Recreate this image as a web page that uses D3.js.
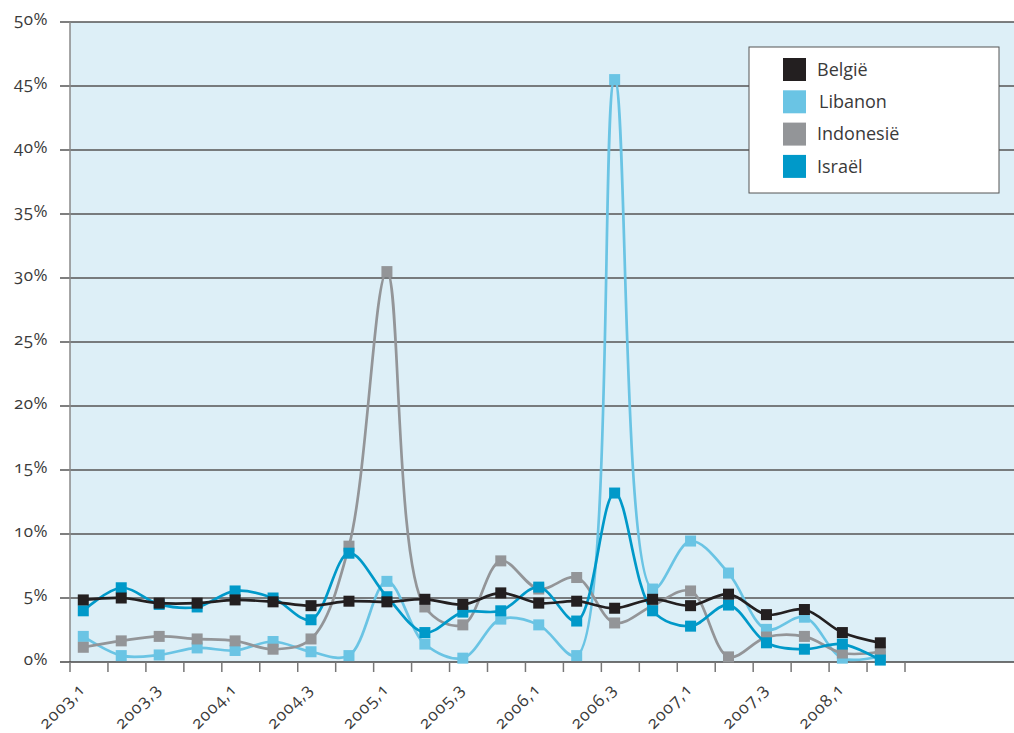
<!DOCTYPE html>
<html>
<head>
<meta charset="utf-8">
<script src="https://cdn.jsdelivr.net/npm/d3@7"></script>
<style>
  body { margin: 0; background: #fff; }
  svg text { font-family: "Open Sans", "Noto Sans", sans-serif; fill: #3a3a3a; font-feature-settings: "onum"; }
</style>
</head>
<body>
<div id="chart"></div>
<script>
const quarters = ["2003,1","2003,2","2003,3","2003,4","2004,1","2004,2","2004,3","2004,4",
	"2005,1","2005,2","2005,3","2005,4","2006,1","2006,2","2006,3","2006,4",
	"2007,1","2007,2","2007,3","2007,4","2008,1","2008,2"];

const belgie    = [4.85, 5.0, 4.6, 4.6, 4.85, 4.7, 4.4, 4.75, 4.7, 4.9, 4.5, 5.4, 4.6, 4.75, 4.2, 4.9, 4.4, 5.3, 3.7, 4.1, 2.3, 1.5];
const libanon   = [2.0, 0.5, 0.55, 1.1, 0.9, 1.6, 0.8, 0.5, 6.3, 1.4, 0.3, 3.35, 2.9, 0.5, 45.5, 5.7, 9.45, 6.95, 2.55, 3.5, 0.3, 0.45];
const indonesie = [1.15, 1.65, 2.0, 1.8, 1.65, 1.0, 1.8, 9.05, 30.5, 4.3, 2.9, 7.9, 5.7, 6.6, 3.05, 4.4, 5.55, 0.4, 1.95, 2.0, 0.7, 0.8];
const israel    = [4.0, 5.8, 4.5, 4.3, 5.55, 5.0, 3.3, 8.5, 5.1, 2.3, 3.9, 4.0, 5.85, 3.2, 13.2, 4.0, 2.8, 4.45, 1.5, 1.0, 1.4, 0.15];

const yTicks = [0, 5, 10, 15, 20, 25, 30, 35, 40, 45, 50];

// legend order; drawing order below puts België on top
const series = [
	{name: "België", values: belgie, color: "#231f20"},
	{name: "Libanon", values: libanon, color: "#6ac4e4"},
	{name: "Indonesië", values: indonesie, color: "#939598"},
	{name: "Israël", values: israel, color: "#0099c9"}
];
const drawOrder = ["Libanon", "Indonesië", "Israël", "België"];

const width = 1014;
const height = 733;
const plot = {left: 70, top: 22, right: 1014, bottom: 662};

const svg = d3.select("#chart")
	.append("svg")
	.attr("width", width)
	.attr("height", height);

const x = d3.scaleBand()
	.domain(quarters)
	.range([plot.left, 905])
	.paddingInner(0)
	.paddingOuter(0);
const px = d => x(d) + x.bandwidth() * 0.35;

const y = d3.scaleLinear()
	.domain([0, 50])
	.range([plot.bottom, plot.top]);

// plot background
svg.append("rect")
	.attr("x", plot.left)
	.attr("y", plot.top)
	.attr("width", plot.right - plot.left)
	.attr("height", plot.bottom - plot.top)
	.attr("fill", "#ddeff7");

// horizontal gridlines + y labels
svg.append("g")
	.selectAll("line")
	.data(yTicks.filter(t => t > 0))
	.enter()
	.append("line")
	.attr("x1", 60)
	.attr("x2", plot.right)
	.attr("y1", d => y(d))
	.attr("y2", d => y(d))
	.attr("stroke", "#555")
	.attr("stroke-width", 1.5);

svg.append("g")
	.selectAll("text")
	.data(yTicks)
	.enter()
	.append("text")
	.attr("x", 48)
	.attr("y", d => y(d) - 2)
	.attr("text-anchor", "end")
	.attr("dominant-baseline", "middle")
	.style("font-size", "17px")
	.style("letter-spacing", "0.5px")
	.text(d => d + "%");

// axes
svg.append("line")
	.attr("x1", plot.left).attr("x2", plot.left)
	.attr("y1", plot.top).attr("y2", plot.bottom)
	.attr("stroke", "#888")
	.attr("stroke-width", 1.5);

svg.append("line")
	.attr("x1", 60).attr("x2", plot.right)
	.attr("y1", plot.bottom).attr("y2", plot.bottom)
	.attr("stroke", "#444")
	.attr("stroke-width", 1.5);

const tickPos = quarters.map(q => x(q)).concat([x(quarters[quarters.length - 1]) + x.bandwidth()]);
svg.append("g")
	.selectAll("line")
	.data(tickPos)
	.enter()
	.append("line")
	.attr("x1", d => d).attr("x2", d => d)
	.attr("y1", plot.bottom).attr("y2", plot.bottom + 10)
	.attr("stroke", "#777")
	.attr("stroke-width", 1.5);

// x labels, every second quarter
svg.append("g")
	.selectAll("text")
	.data(quarters.filter((q, i) => i % 2 === 0))
	.enter()
	.append("text")
	.attr("transform", d => `translate(${px(d) + 3},${plot.bottom + 28}) rotate(-45)`)
	.attr("text-anchor", "end")
	.style("font-size", "17px")
	.style("letter-spacing", "1px")
	.text(d => d);

// series
const line = d3.line()
	.x((d, i) => px(quarters[i]))
	.y(d => y(d))
	.curve(d3.curveCatmullRom.alpha(0.5));

const ms = 11;
drawOrder.forEach(name => {
	const s = series.find(d => d.name === name);
	svg.append("path")
		.datum(s.values)
		.attr("d", line)
		.attr("fill", "none")
		.attr("stroke", s.color)
		.attr("stroke-width", 2.7);
	svg.append("g")
		.selectAll("rect")
		.data(s.values)
		.enter()
		.append("rect")
		.attr("x", (d, i) => px(quarters[i]) - ms / 2)
		.attr("y", d => y(d) - ms / 2)
		.attr("width", ms)
		.attr("height", ms)
		.attr("fill", s.color);
});

// legend
const legend = svg.append("g").attr("transform", "translate(749,47)");
legend.append("rect")
	.attr("width", 250)
	.attr("height", 146)
	.attr("fill", "#fff")
	.attr("stroke", "#555")
	.attr("stroke-width", 1);

const item = legend.selectAll("g.item")
	.data(series)
	.enter()
	.append("g")
	.attr("class", "item")
	.attr("transform", (d, i) => `translate(34,${11 + i * 32.3})`);
item.append("rect")
	.attr("width", 23)
	.attr("height", 23)
	.attr("fill", d => d.color);
item.append("text")
	.attr("x", (d, i) => i === 1 ? 36 : 34)
	.attr("y", 13)
	.attr("dominant-baseline", "middle")
	.style("font-size", "18px")
	.text(d => d.name);
</script>
</body>
</html>
